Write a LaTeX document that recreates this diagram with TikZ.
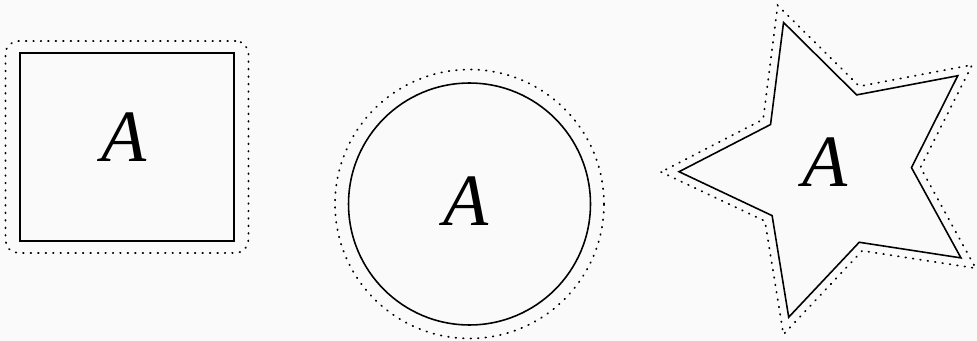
\documentclass[tikz,border=0pt]{standalone}
\usepackage{fontspec}
\setmainfont{Liberation Serif}
\usetikzlibrary{shapes.geometric}
\definecolor{bgpaper}{RGB}{250,250,250}
\tikzset{
    shapeline/.style={draw, line width=0.9pt, inner sep=0pt},
    outline/.style={draw, line width=1pt, line cap=round, dash pattern=on 0.4pt off 3.85pt, inner sep=0pt},
    starshape/.style={star, star points=5, star point ratio=2, shape border rotate=91},
    letter/.style={inner sep=0pt, font=\fontsize{42}{50}\selectfont\itshape},
}

\begin{document}
\begin{tikzpicture}[x=0.02cm, y=-0.02cm]
    \fill[bgpaper] (0,0) rectangle (977,341);
    \useasboundingbox (0,0) rectangle (977,341);

    % square
    \node [shapeline, rectangle, minimum width=4.28cm, minimum height=3.76cm] (sq) at (127,147) {};
    \node [outline, rectangle, rounded corners=0.26cm, minimum width=4.86cm, minimum height=4.24cm] (sqout) at (sq.center) {};
    \node [letter] (sqA) at (124,137.5) {A};

    % circle
    \node [shapeline, circle, minimum size=4.84cm] (circ) at (469.5,204) {};
    \node [outline, circle, minimum size=5.38cm] (circout) at (circ.center) {};
    \node [letter] (circA) at (466,201.5) {A};

    % star
    \node [shapeline, starshape, minimum size=6.2cm] (st) at (834,169) {};
    \node [outline, starshape, minimum size=6.92cm] (stout) at (st.center) {};
    \node [letter] (stA) at (825,162) {A};

\end{tikzpicture}
\end{document}
